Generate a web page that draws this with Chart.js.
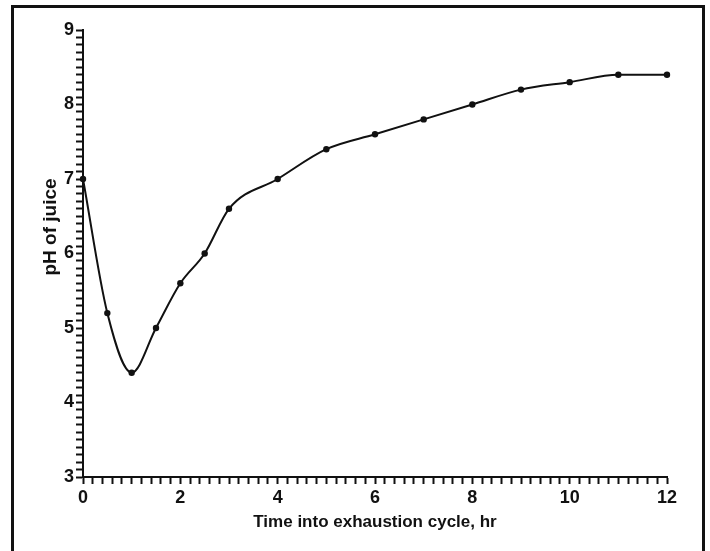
<!DOCTYPE html>
<html>
<head>
<meta charset="utf-8">
<script src="https://cdn.jsdelivr.net/npm/chart.js@4.4.1/dist/chart.umd.min.js"></script>
<style>
  html, body { margin: 0; padding: 0; background: #fff; overflow: hidden; }
  #wrap { position: relative; width: 710px; height: 551px; }
  #frame {
    position: absolute; left: 11px; top: 5px; width: 694px; height: 600px;
    box-sizing: border-box; border: 3px solid #111; border-bottom: none;
    pointer-events: none;
  }
</style>
</head>
<body>
<div id="wrap">
  <canvas id="ph" width="710" height="551"></canvas>
  <div id="frame"></div>
</div>
<script>
// hours into the exhaustion cycle and juice pH at each sample
const hours = [0, 0.5, 1, 1.5, 2, 2.5, 3, 4, 5, 6, 7, 8, 9, 10, 11, 12];
const phValues = [7.0, 5.2, 4.4, 5.0, 5.6, 6.0, 6.6, 7.0, 7.4, 7.6, 7.8, 8.0, 8.2, 8.3, 8.4, 8.4];
const xLabels = [0, 2, 4, 6, 8, 10, 12];
const yLabels = [3, 4, 5, 6, 7, 8, 9];

const xTitle = "Time into exhaustion cycle, hr";
const yTitle = "pH of juice";
const ink = "#111";
const fontFamily = "'Liberation Sans', Arial, Helvetica, sans-serif";

const onList = (v, list) => list.some(l => Math.abs(l - v) < 1e-6);

// axis titles drawn by hand so they can sit where they belong
const axisTitles = {
  id: "axisTitles",
  afterDraw(chart) {
    const ctx = chart.ctx;
    const area = chart.chartArea;
    ctx.save();
    ctx.fillStyle = ink;
    ctx.textAlign = "center";
    ctx.textBaseline = "middle";
    ctx.font = "bold 17px " + fontFamily;
    ctx.fillText(xTitle, (area.left + area.right) / 2, 522);
    ctx.translate(51, 227);
    ctx.rotate(-Math.PI / 2);
    ctx.font = "bold 19px " + fontFamily;
    ctx.fillText(yTitle, 0, 0);
    ctx.restore();
  }
};

const tickFont = { family: fontFamily, size: 18, weight: "bold" };

new Chart(document.getElementById("ph"), {
  type: "line",
  data: {
    datasets: [{
      data: hours.map((h, i) => ({ x: h, y: phValues[i] })),
      borderColor: ink,
      borderWidth: 2,
      backgroundColor: ink,
      pointRadius: 3.2,
      pointBackgroundColor: ink,
      pointBorderWidth: 0,
      cubicInterpolationMode: "monotone",
      fill: false,
      clip: false
    }]
  },
  options: {
    responsive: false,
    animation: false,
    layout: { padding: { top: 30, right: 43, left: 0, bottom: 0 } },
    plugins: { legend: { display: false }, tooltip: { enabled: false } },
    scales: {
      x: {
        type: "linear",
        min: 0,
        max: 12,
        afterFit(scale) { scale.height = 74; },
        border: { color: ink, width: 2 },
        grid: { drawOnChartArea: false, drawTicks: true, tickLength: 7, tickColor: ink, tickWidth: 2 },
        ticks: {
          stepSize: 0.2,
          autoSkip: false,
          maxTicksLimit: 200,
          maxRotation: 0,
          padding: 3,
          color: ink,
          font: tickFont,
          callback: v => onList(v, xLabels) ? String(Math.round(v)) : ""
        }
      },
      y: {
        min: 3,
        max: 9,
        afterFit(scale) { scale.width = 83; },
        border: { color: ink, width: 2 },
        grid: { drawOnChartArea: false, drawTicks: true, tickLength: 7, tickColor: ink, tickWidth: 2 },
        ticks: {
          stepSize: 0.1,
          autoSkip: false,
          maxTicksLimit: 200,
          padding: 2,
          color: ink,
          font: tickFont,
          callback: v => onList(v, yLabels) ? String(Math.round(v)) : ""
        }
      }
    }
  },
  plugins: [axisTitles]
});
</script>
</body>
</html>
